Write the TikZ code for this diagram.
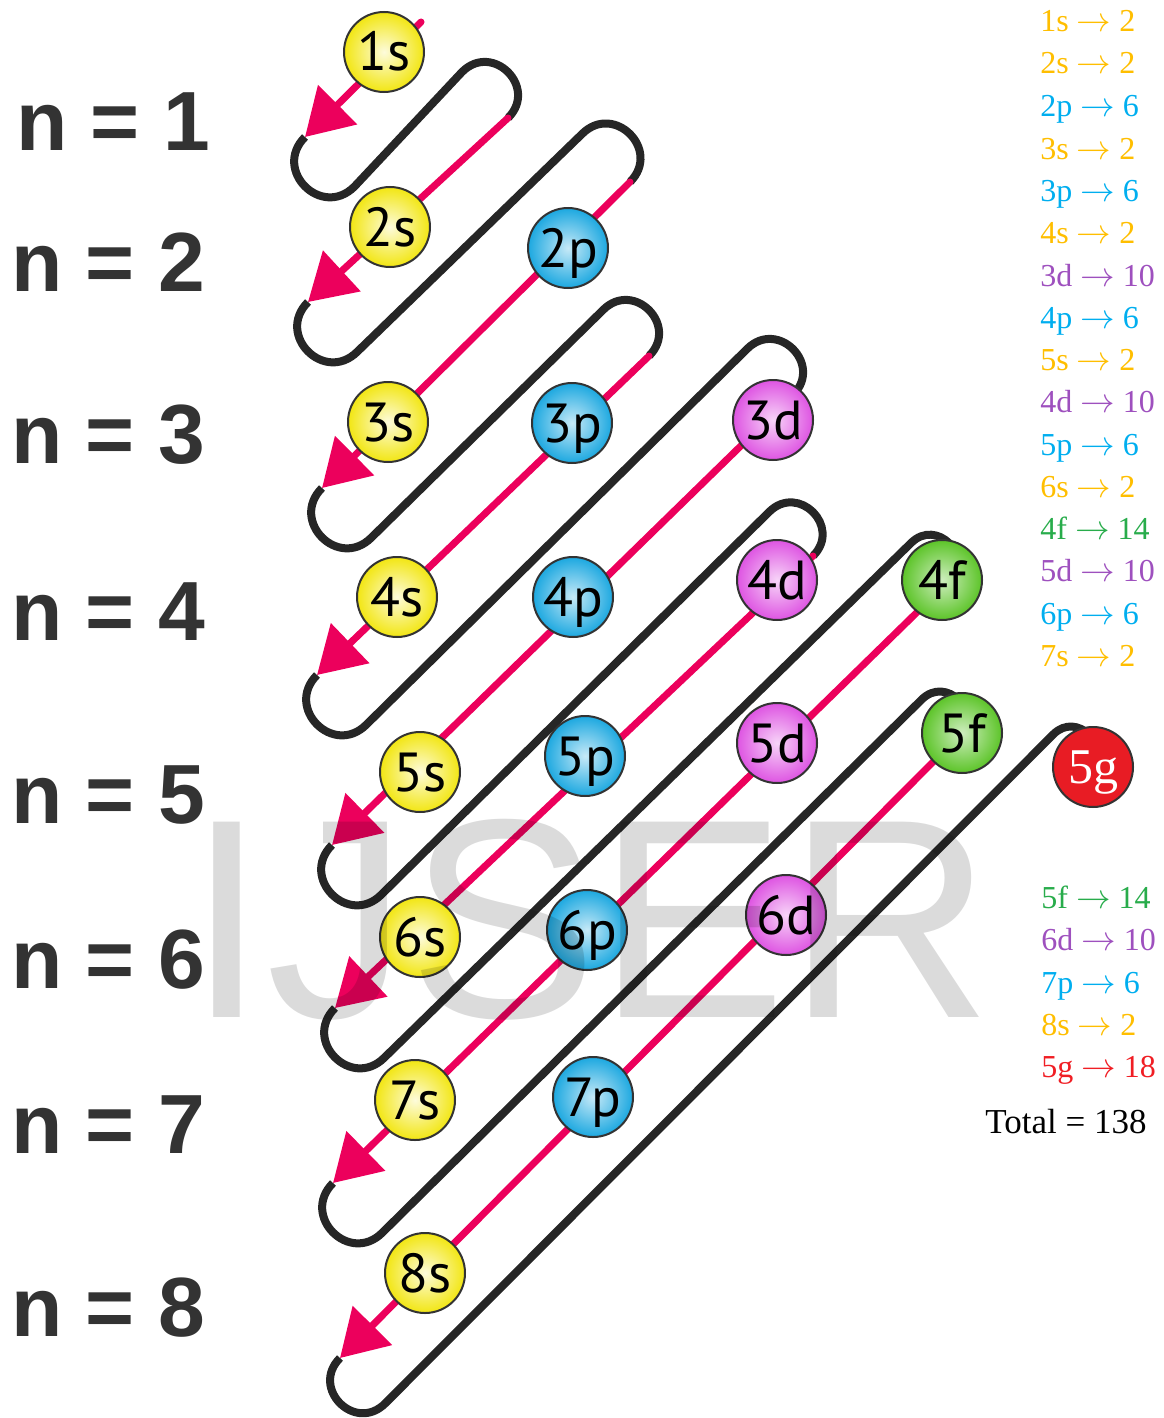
\documentclass[tikz,border=0pt]{standalone}
\usepackage{fontspec}
\setmainfont{Liberation Serif}
\newfontfamily\orbfont{PT Sans}
\newfontfamily\levelfont{Liberation Sans}
\usepackage{tikz}
\usetikzlibrary{arrows.meta}
\definecolor{pathpink}{RGB}{236,0,92}
\definecolor{pathblack}{RGB}{38,38,38}
\definecolor{sfill}{RGB}{242,230,18}
\definecolor{pfill}{RGB}{28,168,224}
\definecolor{dfill}{RGB}{222,84,226}
\definecolor{ffill}{RGB}{92,196,40}
\definecolor{gfill}{RGB}{232,28,36}
\definecolor{stext}{RGB}{255,190,0}
\definecolor{ptext}{RGB}{0,174,239}
\definecolor{dtext}{RGB}{158,80,190}
\definecolor{ftext}{RGB}{40,172,75}
\definecolor{gtext}{RGB}{240,30,36}
\definecolor{leveltext}{RGB}{51,51,51}
\tikzset{
  orbital/.style={
    circle, draw=black!80, line width=1pt, minimum size=40pt, inner sep=0pt,
    text height=19pt, text depth=0pt, font=\orbfont\fontsize{27.5}{31}\selectfont
  },
  s orb/.style={orbital, inner color=sfill!15, outer color=sfill},
  p orb/.style={orbital, inner color=pfill!25, outer color=pfill},
  d orb/.style={orbital, inner color=dfill!25, outer color=dfill},
  f orb/.style={orbital, inner color=ffill!30, outer color=ffill},
  g orb/.style={orbital, fill=gfill, text=white, text height=16pt,
    font=\rmfamily\fontsize{25}{28}\selectfont},
  return path/.style={draw=pathblack, line width=4pt},
  fill order/.style={draw=pathpink, line width=3.5pt, line cap=round,
    -{Triangle[length=23pt, width=27pt]}},
  bottom turn/.style={out=225, in=225, looseness=1.7},
  top turn/.style={out=45, in=45, looseness=1.7},
  level/.style={anchor=west, inner sep=0pt, text=leveltext,
    font=\levelfont\bfseries\fontsize{42}{46}\selectfont},
  capacity/.style={anchor=base west, inner sep=0pt, font=\fontsize{16}{19}\selectfont},
  watermark/.style={inner sep=0pt, text=black, text opacity=0.14,
    font=\levelfont\fontsize{142}{150}\selectfont},
}
\begin{document}
\begin{tikzpicture}[x=0.5pt, y=0.5pt]
  \useasboundingbox (0,0) rectangle (1163,-1418);

  % turning points: S = start of a diagonal, T = arrow tip, B/A = ends of the return line
  \coordinate (S1) at (421,-22);     \coordinate (T1) at (305,-137);
  \coordinate (B1) at (354.5,-186.5); \coordinate (A1) at (462,-72);
  \coordinate (S2) at (508,-118);    \coordinate (T2) at (308,-302);
  \coordinate (B2) at (357.5,-351.5); \coordinate (A2) at (582,-134);
  \coordinate (S3) at (630,-182);    \coordinate (T3) at (322,-488);
  \coordinate (B3) at (371.5,-537.5); \coordinate (A3) at (603,-310);
  \coordinate (S4) at (649,-356);    \coordinate (T4) at (317,-675);
  \coordinate (B4) at (366.5,-724.5); \coordinate (A4) at (747,-349);
  \coordinate (S5) at (793,-395);    \coordinate (T5) at (332,-845);
  \coordinate (B5) at (381.5,-894.5); \coordinate (A5) at (769,-512);
  \coordinate (S6) at (813,-556);    \coordinate (T6) at (335,-1008);
  \coordinate (B6) at (384.5,-1057.5); \coordinate (A6) at (911,-543);
  \coordinate (S7) at (949,-581);    \coordinate (T7) at (333,-1183);
  \coordinate (B7) at (382.5,-1232.5); \coordinate (A7) at (921.6,-699.6);
  \coordinate (S8) at (958.4,-736.4); \coordinate (T8) at (340,-1358);
  \coordinate (B8) at (385.3,-1403.3); \coordinate (A8) at (1053.3,-734.3);
  \coordinate (S9) at (1088.7,-769.7);

  % black return lines
  \draw[return path] (T1) to[bottom turn] (B1) -- (A1) to[top turn] (S2);
  \draw[return path] (T2) to[bottom turn] (B2) -- (A2) to[top turn] (S3);
  \draw[return path] (T3) to[bottom turn] (B3) -- (A3) to[top turn] (S4);
  \draw[return path] (T4) to[bottom turn] (B4) -- (A4) to[top turn] (S5);
  \draw[return path] (T5) to[bottom turn] (B5) -- (A5) to[top turn] (S6);
  \draw[return path] (T6) to[bottom turn] (B6) -- (A6) to[top turn] (S7);
  \draw[return path] (T7) to[bottom turn] (B7) -- (A7) to[top turn] (S8);
  \draw[return path] (T8) to[bottom turn] (B8) -- (A8) to[top turn] (S9);

  % pink diagonals
  \draw[fill order] (S1) -- (T1);
  \draw[fill order] (S2) -- (T2);
  \draw[fill order] (S3) -- (T3);
  \draw[fill order] (S4) -- (T4);
  \draw[fill order] (S5) -- (T5);
  \draw[fill order] (S6) -- (T6);
  \draw[fill order] (S7) -- (T7);
  \draw[fill order] (S8) -- (T8);

  % orbitals
  \node[s orb] (o1s) at (384,-52) {1s};
  \node[s orb] (o2s) at (390,-227) {2s};
  \node[p orb] (o2p) at (568,-248) {2p};
  \node[s orb] (o3s) at (388,-422) {3s};
  \node[p orb] (o3p) at (572,-423) {3p};
  \node[d orb] (o3d) at (773,-420) {3d};
  \node[s orb] (o4s) at (397,-597) {4s};
  \node[p orb] (o4p) at (573,-597) {4p};
  \node[d orb] (o4d) at (777,-580) {4d};
  \node[f orb] (o4f) at (942,-580) {4f};
  \node[s orb] (o5s) at (420,-772) {5s};
  \node[p orb] (o5p) at (585,-756) {5p};
  \node[d orb] (o5d) at (777,-743) {5d};
  \node[f orb] (o5f) at (962,-733) {5f};
  \node[g orb] (o5g) at (1093,-767) {5g};
  \node[s orb] (o6s) at (420,-937) {6s};
  \node[p orb] (o6p) at (587,-930) {6p};
  \node[d orb] (o6d) at (786,-915) {6d};
  \node[s orb] (o7s) at (415,-1100) {7s};
  \node[p orb] (o7p) at (593,-1097) {7p};
  \node[s orb] (o8s) at (425,-1273) {8s};

  % shell numbers
  \node[level] (n1) at (16,-122) {n = 1};
  \node[level] (n2) at (11,-262) {n = 2};
  \node[level] (n3) at (11,-435) {n = 3};
  \node[level] (n4) at (11,-612) {n = 4};
  \node[level] (n5) at (11,-795) {n = 5};
  \node[level] (n6) at (11,-960) {n = 6};
  \node[level] (n7) at (11,-1125) {n = 7};
  \node[level] (n8) at (11,-1308) {n = 8};

  % capacities
  \node[capacity, text=stext] (c1s) at (1040,-32) {1s $\rightarrow$ 2};
  \node[capacity, text=stext] (c2s) at (1040,-74) {2s $\rightarrow$ 2};
  \node[capacity, text=ptext] (c2p) at (1040,-117) {2p $\rightarrow$ 6};
  \node[capacity, text=stext] (c3s) at (1040,-159) {3s $\rightarrow$ 2};
  \node[capacity, text=ptext] (c3p) at (1040,-201) {3p $\rightarrow$ 6};
  \node[capacity, text=stext] (c4s) at (1040,-243) {4s $\rightarrow$ 2};
  \node[capacity, text=dtext] (c3d) at (1040,-286) {3d $\rightarrow$ 10};
  \node[capacity, text=ptext] (c4p) at (1040,-328) {4p $\rightarrow$ 6};
  \node[capacity, text=stext] (c5s) at (1040,-370) {5s $\rightarrow$ 2};
  \node[capacity, text=dtext] (c4d) at (1040,-412) {4d $\rightarrow$ 10};
  \node[capacity, text=ptext] (c5p) at (1040,-455) {5p $\rightarrow$ 6};
  \node[capacity, text=stext] (c6s) at (1040,-497) {6s $\rightarrow$ 2};
  \node[capacity, text=ftext] (c4f) at (1040,-539) {4f $\rightarrow$ 14};
  \node[capacity, text=dtext] (c5d) at (1040,-581) {5d $\rightarrow$ 10};
  \node[capacity, text=ptext] (c6p) at (1040,-624) {6p $\rightarrow$ 6};
  \node[capacity, text=stext] (c7s) at (1040,-666) {7s $\rightarrow$ 2};

  \node[capacity, text=ftext] (c5f) at (1041,-908) {5f $\rightarrow$ 14};
  \node[capacity, text=dtext] (c6d) at (1041,-950) {6d $\rightarrow$ 10};
  \node[capacity, text=ptext] (c7p) at (1041,-993) {7p $\rightarrow$ 6};
  \node[capacity, text=stext] (c8s) at (1041,-1035) {8s $\rightarrow$ 2};
  \node[capacity, text=gtext] (c5g) at (1041,-1077) {5g $\rightarrow$ 18};
  \node[capacity, font=\fontsize{17.5}{20}\selectfont] (total) at (985,-1133) {Total = 138};

  % watermark
  \node[watermark] (wm) at (590,-920) {IJSER};
\end{tikzpicture}
\end{document}
